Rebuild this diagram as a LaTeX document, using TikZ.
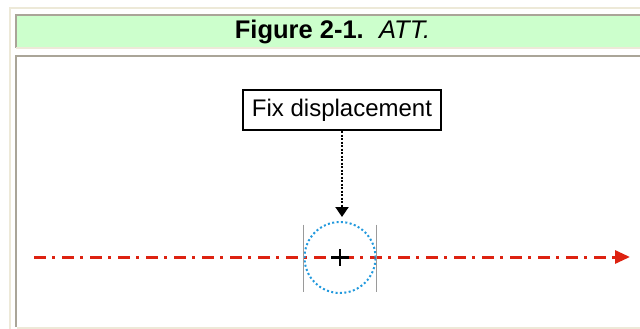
\documentclass[tikz,border=0pt]{standalone}
\usepackage{fontspec}
\setmainfont{Liberation Sans}
\usetikzlibrary{arrows.meta}
\definecolor{framebeige}{HTML}{EDE9D8}
\definecolor{framegray}{HTML}{AAA598}
\definecolor{headgreen}{HTML}{CCFFCC}
\definecolor{axisred}{HTML}{DD2211}
\definecolor{ringblue}{HTML}{2299DD}
\definecolor{stopgray}{HTML}{9A9A9A}

\begin{document}
\begin{tikzpicture}[x=1pt, y=-1pt,
  labelbox/.style={draw, line width=2pt, minimum width=198pt, minimum height=40pt,
    inner sep=0pt, font=\fontsize{24}{27}\selectfont},
  stopline/.style={stopgray, line width=1.6pt},
  pointer/.style={line width=2pt, dash pattern=on 2pt off 1.5pt,
    -{Triangle[length=10pt, width=13pt]}, shorten >=4pt}]

\useasboundingbox (0,0) rectangle (640,329);

% page frame
\draw[framebeige, line width=2pt] (10,329) -- (10,8) -- (640,8);
\fill[headgreen] (16,16) rectangle (640,47);
\draw[framegray, line width=2pt] (16,48) -- (16,15) -- (640,15);
\draw[framebeige, line width=2pt] (16,48.5) -- (640,48.5);
\draw[framegray, line width=2pt] (16,327) -- (16,56) -- (640,56);
\draw[framebeige, line width=2pt] (17,327.5) -- (640,327.5);

\node[anchor=base, font=\fontsize{25.5}{29}\selectfont] (title) at (332.5,38.3)
  {\textbf{Figure 2-1.}\hspace{0.6em}\textit{ATT.}};

\node[labelbox] (fix) at (342,110) {Fix displacement};

% axis
\coordinate (axiswest) at (34,257);
\coordinate (axiseast) at (630,257);
\draw[axisred, line width=3pt, dash pattern=on 12pt off 6pt on 3pt off 7pt,
  -{Triangle[length=15pt, width=13pt]}] (axiswest) -- (axiseast);

\node[circle, draw=ringblue, line width=2pt, dash pattern=on 2pt off 2.4pt,
  minimum size=71pt, inner sep=0pt] (ring) at (340,257.5) {};

\draw[line width=2.5pt] ([xshift=-9pt]ring.center) -- ([xshift=9pt]ring.center)
  ([yshift=8.5pt]ring.center) -- ([yshift=-8.5pt]ring.center);

\draw[stopline] ([yshift=33pt]ring.west) -- ([yshift=-34pt]ring.west);
\draw[stopline] ([yshift=33pt]ring.east) -- ([yshift=-34pt]ring.east);

\draw[pointer] (fix.south) -- (fix.south |- ring.north);

\end{tikzpicture}
\end{document}
